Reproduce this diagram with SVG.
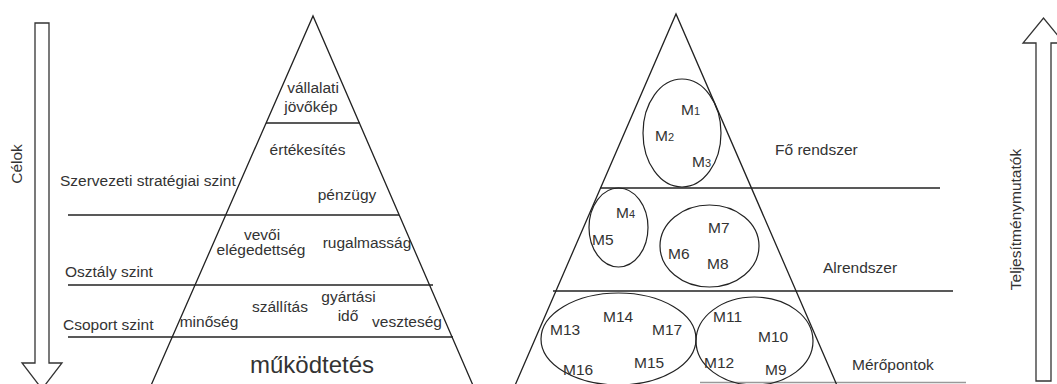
<svg xmlns="http://www.w3.org/2000/svg" width="1057" height="384" viewBox="0 0 1057 384">
<style>
.t{font-family:"Liberation Sans",Arial,sans-serif;font-size:15.5px;fill:#333}
.m{text-anchor:middle}
.ln{stroke:#222;stroke-width:1.3;fill:none}
.sub{font-size:11px}
.e{stroke:#222;stroke-width:1.2;fill:none}
.ar{stroke:#333;stroke-width:1.3;fill:#fff}
</style>
<rect width="1057" height="384" fill="#fff"/>
<g id="arrow-celok">
<path class="ar" d="M35,23 H49 V363 H62 L42,389 L22,363 H35 Z"/>
<text class="t m" transform="translate(22,164) rotate(-90)">Célok</text>
</g>
<g id="arrow-teljesitmeny">
<path class="ar" d="M1036,381 V43 H1023 L1043.5,18 L1064,43 H1051 V381 Z"/>
<text class="t m" transform="translate(1021,219.5) rotate(-90)">Teljesítménymutatók</text>
</g>
<g id="pyramid-left">
<path class="ln" d="M149,390 L313,16 L475,390"/>
<g id="connectors">
<line class="ln" x1="266" y1="123" x2="360" y2="123"/>
<line class="ln" x1="68" y1="215" x2="399" y2="215"/>
<line class="ln" x1="68" y1="285" x2="433" y2="285"/>
<line class="ln" x1="68" y1="337" x2="453" y2="337"/>
<line class="ln" x1="600" y1="188" x2="940" y2="188"/>
<line class="ln" x1="553" y1="291" x2="953" y2="291"/>
<line x1="700" y1="382.5" x2="966" y2="382.5" stroke="#999" stroke-width="1.3"/>
</g>
</g>
<g id="level-strategic">
<text class="t m" x="313" y="93">vállalati</text>
<text class="t m" x="311" y="112">jövőkép</text>
<text class="t m" x="307.5" y="155">értékesítés</text>
<text class="t" x="60" y="186">Szervezeti stratégiai szint</text>
<text class="t m" x="347" y="200">pénzügy</text>
</g>
<g id="level-department">
<text class="t m" x="262" y="240">vevői</text>
<text class="t m" x="261" y="255">elégedettség</text>
<text class="t m" x="367" y="248">rugalmasság</text>
<text class="t" x="65" y="277">Osztály szint</text>
</g>
<g id="level-group">
<text class="t" x="63" y="330">Csoport szint</text>
<text class="t m" x="209" y="327">minőség</text>
<text class="t m" x="280" y="311.5">szállítás</text>
<text class="t m" x="348.5" y="301.5">gyártási</text>
<text class="t m" x="348" y="320.5">idő</text>
<text class="t m" x="407" y="326.5">veszteség</text>
<text class="t m" x="312" y="373" style="font-size:24px">működtetés</text>
</g>
<g id="pyramid-right">
<path class="ln" d="M513,390 L676,14 L839,390"/>
<text class="t" x="775" y="155">Fő rendszer</text>
<text class="t" x="823" y="273">Alrendszer</text>
<text class="t" x="852" y="370">Mérőpontok</text>
</g>
<g id="group-m1-m3">
<ellipse class="e" cx="682" cy="133" rx="39" ry="54"/>
<text class="t" x="681" y="115">M<tspan class="sub">1</tspan></text>
<text class="t" x="655" y="141">M<tspan class="sub">2</tspan></text>
<text class="t" x="692" y="167">M<tspan class="sub">3</tspan></text>
</g>
<g id="group-m4-m5">
<ellipse class="e" cx="618.5" cy="227.5" rx="29.5" ry="39.5"/>
<text class="t" x="616" y="218">M<tspan class="sub">4</tspan></text>
<text class="t" x="592" y="245">M5</text>
</g>
<g id="group-m6-m8">
<ellipse class="e" cx="709.5" cy="246" rx="49.5" ry="41"/>
<text class="t" x="668" y="259">M6</text>
<text class="t" x="708" y="233">M7</text>
<text class="t" x="707" y="269">M8</text>
</g>
<g id="group-m13-m17">
<ellipse class="e" cx="618.5" cy="339" rx="77.5" ry="46"/>
<text class="t" x="550" y="335">M13</text>
<text class="t" x="603" y="322">M14</text>
<text class="t" x="652" y="335">M17</text>
<text class="t" x="563" y="375">M16</text>
<text class="t" x="634" y="368">M15</text>
</g>
<g id="group-m9-m12">
<ellipse class="e" cx="754.5" cy="341" rx="58.5" ry="44"/>
<text class="t" x="713" y="322">M11</text>
<text class="t" x="704" y="368">M12</text>
<text class="t" x="758" y="342">M10</text>
<text class="t" x="765" y="375">M9</text>
</g>
</svg>
